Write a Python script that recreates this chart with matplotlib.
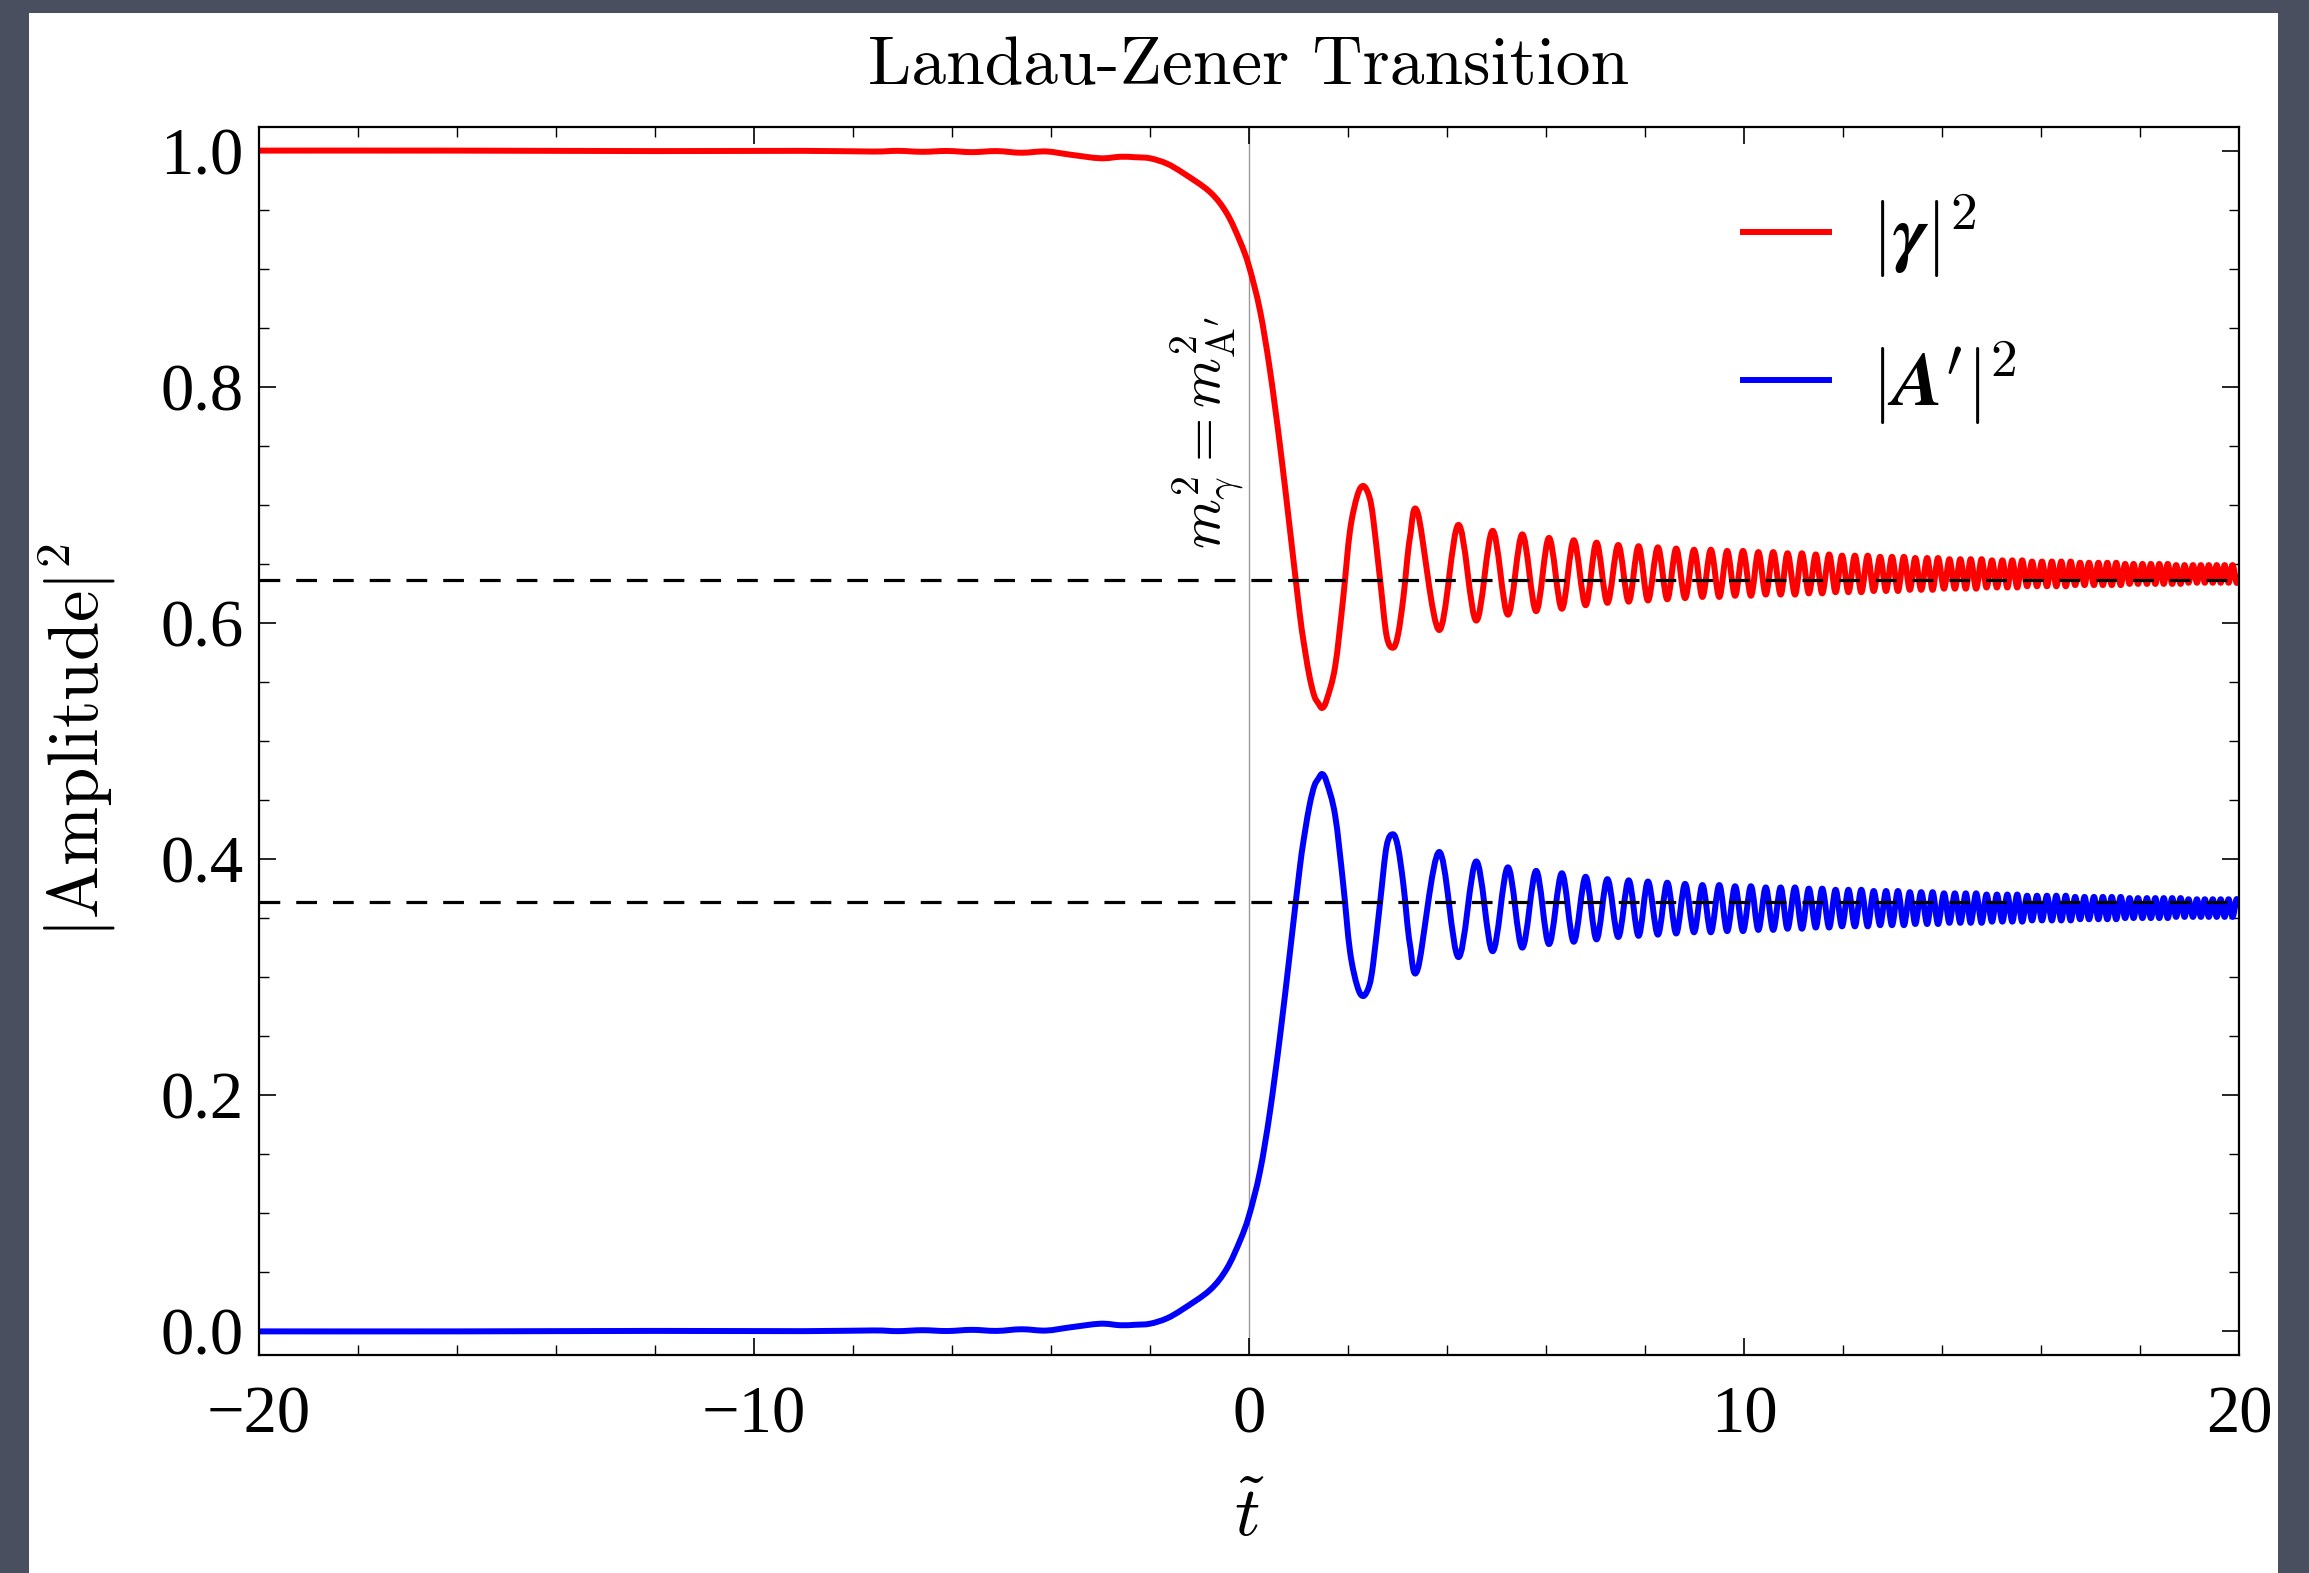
import numpy as np
import matplotlib
matplotlib.use("Agg")
import matplotlib.pyplot as plt
from matplotlib.patches import Rectangle, PathPatch
from matplotlib.path import Path
from matplotlib.lines import Line2D
from matplotlib.ticker import MultipleLocator

plt.rcParams["font.family"] = ["Liberation Serif", "DejaVu Serif"]
plt.rcParams["mathtext.fontset"] = "cm"

# --- values ---
# before / through the crossing (t < 1.4)
t_pre = [-20.0, -16.0, -12.0, -9.0, -7.6, -7.1, -6.6, -6.1, -5.6, -5.1, -4.6, -4.1, -3.6, -3.0,
         -2.6, -2.3, -2.0, -1.66, -1.33, -0.79, -0.45, -0.18, 0.0, 0.22, 0.42, 0.63, 0.83, 1.03,
         1.13, 1.23, 1.32]
red_pre = [1.000, 1.000, 0.9996, 0.9998, 0.9992, 0.9998, 0.9990, 0.9997, 0.9987, 0.9996, 0.9982, 0.9993,
           0.9965, 0.9935, 0.9948, 0.9944, 0.9935, 0.989, 0.981, 0.965, 0.947, 0.923, 0.902, 0.865,
           0.815, 0.749, 0.678, 0.606, 0.577, 0.553, 0.538]
blue_pre = [0.000, 0.000, 0.0004, 0.0002, 0.0008, 0.0002, 0.0010, 0.0003, 0.0013, 0.0004, 0.0018, 0.0007,
            0.0035, 0.0065, 0.0052, 0.0056, 0.0065, 0.011, 0.019, 0.035, 0.053, 0.077, 0.098, 0.135,
            0.185, 0.251, 0.322, 0.394, 0.423, 0.447, 0.462]

# extra points on the flanks of the first oscillations
t_flank = [1.40, 1.57, 1.74, 1.90, 2.04, 2.19, 2.43, 2.51, 2.65, 2.78, 3.01, 3.12, 3.25]
red_flank = [0.532, 0.535, 0.563, 0.620, 0.678, 0.708, 0.707, 0.688, 0.636, 0.589, 0.590, 0.622,
             0.672]
blue_flank = [0.468, 0.465, 0.437, 0.380, 0.322, 0.292, 0.293, 0.312, 0.364, 0.411, 0.410, 0.378,
              0.328]

# maxima of |gamma|^2 (= minima of |A'|^2)
t_max = [2.31, 3.41, 4.23, 4.92, 5.52, 6.06, 6.56, 7.02, 7.46, 7.87,
         8.26, 8.63, 8.99, 9.33, 9.66, 9.98, 10.29, 10.59, 10.88, 11.17,
         11.45, 11.72, 11.98, 12.24, 12.50, 12.75, 12.99, 13.23, 13.46, 13.70,
         13.92, 14.15, 14.37, 14.58, 14.80, 15.01, 15.22, 15.42, 15.62, 15.82,
         16.02, 16.22, 16.41, 16.60, 16.79, 16.97, 17.16, 17.34, 17.52, 17.70,
         17.87, 18.05, 18.22, 18.39, 18.56, 18.73, 18.90, 19.07, 19.23, 19.39,
         19.55, 19.71, 19.87]
red_max = [0.716, 0.693, 0.683, 0.678, 0.675, 0.672, 0.670, 0.668, 0.666, 0.665,
           0.664, 0.663, 0.662, 0.662, 0.661, 0.661, 0.660, 0.660, 0.659, 0.659,
           0.658, 0.658, 0.657, 0.657, 0.657, 0.656, 0.656, 0.656, 0.655, 0.655,
           0.655, 0.654, 0.654, 0.654, 0.654, 0.653, 0.653, 0.653, 0.653, 0.652,
           0.652, 0.652, 0.652, 0.652, 0.651, 0.651, 0.651, 0.651, 0.651, 0.650,
           0.650, 0.650, 0.650, 0.650, 0.650, 0.649, 0.649, 0.649, 0.649, 0.649,
           0.649, 0.649, 0.649]
blue_min = [0.284, 0.307, 0.317, 0.322, 0.325, 0.328, 0.330, 0.332, 0.334, 0.335,
            0.336, 0.337, 0.338, 0.338, 0.339, 0.339, 0.340, 0.340, 0.341, 0.341,
            0.342, 0.342, 0.343, 0.343, 0.343, 0.344, 0.344, 0.344, 0.345, 0.345,
            0.345, 0.346, 0.346, 0.346, 0.346, 0.347, 0.347, 0.347, 0.347, 0.348,
            0.348, 0.348, 0.348, 0.348, 0.349, 0.349, 0.349, 0.349, 0.349, 0.350,
            0.350, 0.350, 0.350, 0.350, 0.350, 0.351, 0.351, 0.351, 0.351, 0.351,
            0.351, 0.351, 0.351]

# minima of |gamma|^2 (= maxima of |A'|^2)
t_min = [1.48, 2.91, 3.84, 4.59, 5.23, 5.80, 6.32, 6.80, 7.24, 7.67,
         8.06, 8.45, 8.81, 9.16, 9.50, 9.82, 10.14, 10.44, 10.74, 11.03,
         11.31, 11.58, 11.85, 12.11, 12.37, 12.62, 12.87, 13.11, 13.35, 13.58,
         13.81, 14.04, 14.26, 14.48, 14.69, 14.90, 15.11, 15.32, 15.52, 15.72,
         15.92, 16.12, 16.31, 16.50, 16.69, 16.88, 17.07, 17.25, 17.43, 17.61,
         17.79, 17.96, 18.14, 18.31, 18.48, 18.65, 18.82, 18.98, 19.15, 19.31,
         19.47, 19.63, 19.79, 19.95]
red_min = [0.528, 0.579, 0.594, 0.602, 0.607, 0.610, 0.612, 0.615, 0.617, 0.618,
           0.619, 0.620, 0.621, 0.622, 0.622, 0.623, 0.623, 0.624, 0.624, 0.624,
           0.625, 0.625, 0.626, 0.626, 0.626, 0.627, 0.627, 0.627, 0.628, 0.628,
           0.628, 0.629, 0.629, 0.629, 0.629, 0.630, 0.630, 0.630, 0.630, 0.631,
           0.631, 0.631, 0.631, 0.631, 0.632, 0.632, 0.632, 0.632, 0.632, 0.632,
           0.633, 0.633, 0.633, 0.633, 0.633, 0.633, 0.633, 0.634, 0.634, 0.634,
           0.634, 0.634, 0.634, 0.634]
blue_max = [0.472, 0.421, 0.406, 0.398, 0.393, 0.390, 0.388, 0.385, 0.383, 0.382,
            0.381, 0.380, 0.379, 0.378, 0.378, 0.377, 0.377, 0.376, 0.376, 0.376,
            0.375, 0.375, 0.374, 0.374, 0.374, 0.373, 0.373, 0.373, 0.372, 0.372,
            0.372, 0.371, 0.371, 0.371, 0.371, 0.370, 0.370, 0.370, 0.370, 0.369,
            0.369, 0.369, 0.369, 0.369, 0.368, 0.368, 0.368, 0.368, 0.368, 0.368,
            0.367, 0.367, 0.367, 0.367, 0.367, 0.367, 0.367, 0.366, 0.366, 0.366,
            0.366, 0.366, 0.366, 0.366]

t_end = [20.0]
red_end = [0.641]
blue_end = [0.359]

# asymptotic levels (dashed)
level_red = 0.636
level_blue = 0.364


def build(t_parts, v_parts):
    t = np.concatenate(t_parts)
    v = np.concatenate(v_parts)
    order = np.argsort(t)
    return t[order], v[order]


def smooth_path(t, v):
    # Catmull-Rom style bezier through the read points (only changes how the line is drawn)
    p = np.column_stack([t, v])
    pp = np.vstack([p[0], p, p[-1]])
    verts = [p[0]]
    codes = [Path.MOVETO]
    for i in range(len(p) - 1):
        p0, p1, p2, p3 = pp[i], pp[i + 1], pp[i + 2], pp[i + 3]
        verts += [p1 + (p2 - p0) / 6, p2 - (p3 - p1) / 6, p2]
        codes += [Path.CURVE4] * 3
    return Path(verts, codes)


t_red, red = build([t_pre, t_flank, t_max, t_min, t_end],
                   [red_pre, red_flank, red_max, red_min, red_end])
t_blue, blue = build([t_pre, t_flank, t_max, t_min, t_end],
                     [blue_pre, blue_flank, blue_min, blue_max, blue_end])

W, H = 2309, 1573
fig = plt.figure(figsize=(W / 100, H / 100), dpi=100)
fig.patch.set_facecolor("#494f5f")
fig.add_artist(Rectangle((29 / W, 0), (2278 - 29) / W, (H - 13) / H, transform=fig.transFigure,
                         facecolor="white", edgecolor="none", zorder=0))

ax = fig.add_axes([259 / W, 1 - 1355 / H, (2239 - 259) / W, (1355 - 127) / H])

lw = 4.3
ax.axvline(0, color="#999999", lw=1.0, zorder=1)
for tt, vv, c in [(t_red, red, "red"), (t_blue, blue, "blue")]:
    ax.add_patch(PathPatch(smooth_path(tt, vv), facecolor="none", edgecolor=c, lw=lw,
                           joinstyle="round", capstyle="butt", zorder=2))
ax.axhline(level_red, color="black", lw=2.3, ls=(0, (6.5, 5.0)), zorder=3)
ax.axhline(level_blue, color="black", lw=2.3, ls=(0, (6.5, 5.0)), zorder=3)

ax.text(-0.85, 0.761, r"$m_\gamma^2 = m_{\mathrm{A}'}^2$", rotation=90, ha="center", va="center",
        fontsize=41)

ax.set_xlim(-20, 20)
ax.set_ylim(-0.02, 1.02)
ax.xaxis.set_major_locator(MultipleLocator(10))
ax.xaxis.set_minor_locator(MultipleLocator(2))
ax.yaxis.set_major_locator(MultipleLocator(0.2))
ax.yaxis.set_minor_locator(MultipleLocator(0.05))
ax.tick_params(which="both", direction="in", top=True, right=True)
ax.tick_params(which="major", length=12.2, width=1.2, labelsize=48)
ax.tick_params(which="minor", length=7.2, width=1.0)
ax.tick_params(axis="x", pad=22)
ax.tick_params(axis="y", pad=11)
for s in ax.spines.values():
    s.set_linewidth(1.6)

ax.set_xlabel(r"$\tilde{t}$", fontsize=51)
ax.xaxis.set_label_coords(0.5, -0.107)
ax.set_ylabel(r"$|\mathrm{Amplitude}|^2$", fontsize=51)
ax.yaxis.set_label_coords(-0.071, 0.5)

handles = [Line2D([], [], color="red", lw=lw, label=r"$|\boldsymbol{\gamma}|^2$"),
           Line2D([], [], color="blue", lw=lw, label=r"$|\boldsymbol{A}'|^2$")]
ax.legend(handles=handles, loc="upper left", bbox_to_anchor=(1743 / W, 1 - 192 / H),
          bbox_transform=fig.transFigure, frameon=False, fontsize=55, handlelength=1.12,
          handletextpad=0.55, labelspacing=0.78, borderpad=0, borderaxespad=0)

fig.text(1249 / W, 1 - 84 / H, "Landau-Zener Transition", family="cmr10", fontsize=50,
         ha="center", va="baseline")

fig.savefig("out.png", dpi=100, facecolor=fig.get_facecolor())
